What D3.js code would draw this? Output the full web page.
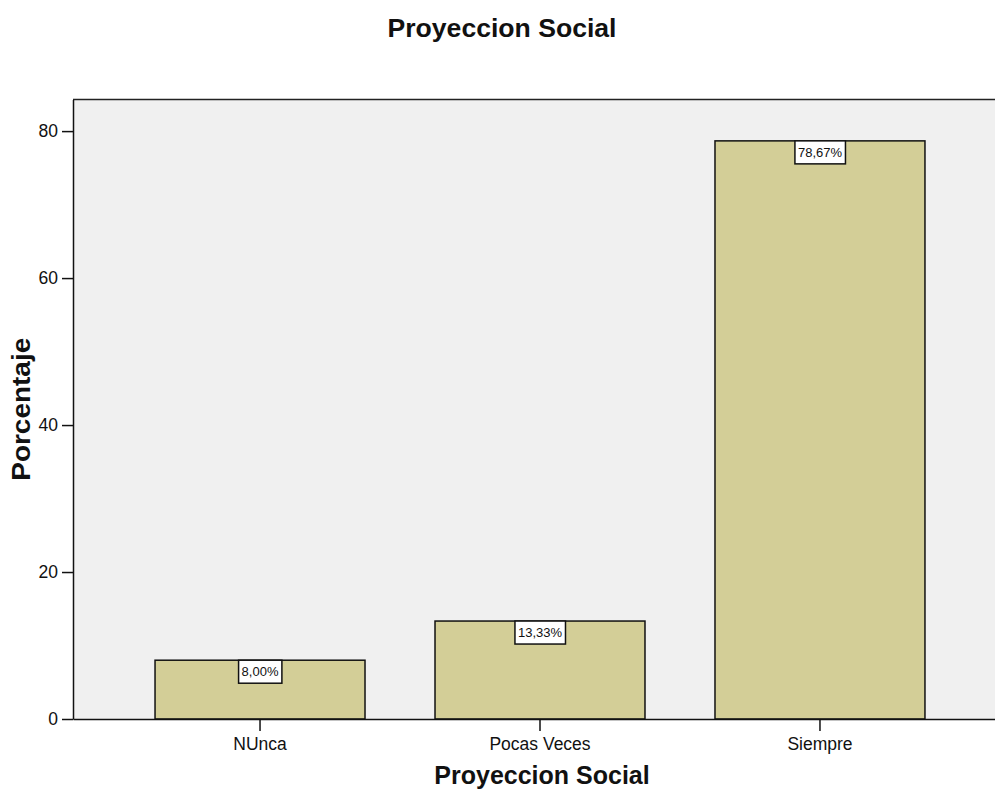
<!DOCTYPE html>
<html>
<head>
<meta charset="utf-8">
<script src="https://cdn.jsdelivr.net/npm/d3@7"></script>
<style>
  html, body { margin: 0; padding: 0; background: #ffffff; }
  svg { display: block; }
  text { font-family: Arial, "Liberation Sans", Helvetica, sans-serif; }
</style>
</head>
<body>
<svg id="chart" width="995" height="789"></svg>
<script>
const categories = ["NUnca", "Pocas Veces", "Siempre"];
const percentages = [8.00, 13.33, 78.67];
const valueLabels = ["8,00%", "13,33%", "78,67%"];
const yTicks = [0, 20, 40, 60, 80];
const chartTitle = "Proyeccion Social";
const xTitle = "Proyeccion Social";
const yTitle = "Porcentaje";

const svg = d3.select("#chart");
const plotLeft = 73, plotRight = 1007, plotTop = 99.5, plotBottom = 719;

const x = d3.scaleBand().domain(categories).range([plotLeft, plotRight])
  .paddingInner(0.25).paddingOuter(0.293);
const y = d3.scaleLinear().domain([0, 84.3]).range([plotBottom, plotTop]);

// plot background
svg.append("rect")
  .attr("x", plotLeft).attr("y", plotTop)
  .attr("width", plotRight - plotLeft).attr("height", plotBottom - plotTop)
  .attr("fill", "#f0f0f0");

// top border
svg.append("line")
  .attr("x1", plotLeft).attr("x2", plotRight)
  .attr("y1", plotTop).attr("y2", plotTop)
  .attr("stroke", "#222").attr("stroke-width", 1.5);

// bars
const data = categories.map((c, i) => ({ c, v: percentages[i], label: valueLabels[i] }));
svg.append("g").selectAll("rect").data(data).join("rect")
  .attr("x", d => x(d.c))
  .attr("y", d => y(d.v))
  .attr("width", x.bandwidth())
  .attr("height", d => y(0) - y(d.v))
  .attr("fill", "#d3ce97")
  .attr("stroke", "#111")
  .attr("stroke-width", 1.5);

// value labels
const lg = svg.append("g").selectAll("g").data(data).join("g")
  .attr("transform", d => `translate(${x(d.c) + x.bandwidth() / 2},${y(d.v)})`);
lg.append("text")
  .attr("text-anchor", "middle")
  .attr("y", 16)
  .attr("font-size", 13)
  .attr("fill", "#111")
  .text(d => d.label);
lg.each(function () {
  const g = d3.select(this);
  const bb = g.select("text").node().getBBox();
  g.insert("rect", "text")
    .attr("x", bb.x - 3).attr("y", 0)
    .attr("width", bb.width + 6).attr("height", 23)
    .attr("fill", "#ffffff").attr("stroke", "#111").attr("stroke-width", 1.5);
});

// y axis
const yAxis = svg.append("g")
  .attr("transform", `translate(${plotLeft},0)`)
  .call(d3.axisLeft(y).tickValues(yTicks).tickSize(11).tickSizeOuter(0).tickPadding(4));
yAxis.select(".domain").attr("stroke", "#111").attr("stroke-width", 1.5);
yAxis.selectAll(".tick line").attr("stroke", "#111").attr("stroke-width", 1.5);
yAxis.selectAll(".tick text").attr("font-size", 17.5).attr("fill", "#111")
  .style("font-family", "Arial, 'Liberation Sans', sans-serif");

// x axis
const xAxis = svg.append("g")
  .attr("transform", `translate(0,${plotBottom})`)
  .call(d3.axisBottom(x).tickSize(12).tickSizeOuter(0).tickPadding(7));
xAxis.select(".domain").attr("stroke", "#111").attr("stroke-width", 1.5);
xAxis.selectAll(".tick line").attr("stroke", "#111").attr("stroke-width", 1.5);
xAxis.selectAll(".tick text").attr("font-size", 17.5).attr("fill", "#111")
  .style("font-family", "Arial, 'Liberation Sans', sans-serif");

// titles
svg.append("text")
  .attr("x", 502).attr("y", 37)
  .attr("text-anchor", "middle")
  .attr("font-size", 25).attr("font-weight", "bold").attr("fill", "#111")
  .attr("textLength", 229).attr("lengthAdjust", "spacingAndGlyphs")
  .text(chartTitle);

svg.append("text")
  .attr("x", 542).attr("y", 784)
  .attr("text-anchor", "middle")
  .attr("font-size", 25).attr("font-weight", "bold").attr("fill", "#111")
  .text(xTitle);

svg.append("text")
  .attr("transform", `translate(30,${(plotTop + plotBottom) / 2}) rotate(-90)`)
  .attr("text-anchor", "middle")
  .attr("font-size", 25).attr("font-weight", "bold").attr("fill", "#111")
  .attr("textLength", 143).attr("lengthAdjust", "spacingAndGlyphs")
  .text(yTitle);
</script>
</body>
</html>
